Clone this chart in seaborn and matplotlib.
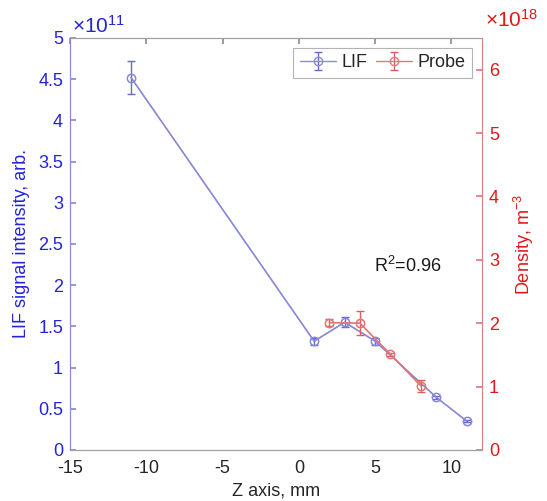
import numpy as np
import pandas as pd
import matplotlib
matplotlib.use("Agg")
import matplotlib.pyplot as plt
from matplotlib.ticker import FuncFormatter
import seaborn as sns

sns.set_theme(style="white")
plt.rcParams['font.family'] = ['Liberation Sans', 'DejaVu Sans']
plt.rcParams['axes.unicode_minus'] = False
plt.rcParams['mathtext.fontset'] = 'custom'
plt.rcParams['mathtext.rm'] = 'Liberation Sans'
plt.rcParams['mathtext.it'] = 'Liberation Sans'

# LIF data (left axis)
lif_z = [-11, 1, 3, 5, 9, 11]
lif_val = [4.52e11, 1.32e11, 1.55e11, 1.32e11, 0.64e11, 0.35e11]
lif_err = [0.20e11, 0.04e11, 0.06e11, 0.04e11, 0.02e11, 0.015e11]

# Probe data (right axis)
probe_z = [2, 4, 6, 8]
probe_val = [2.01e18, 2.00e18, 1.51e18, 1.01e18]
probe_err = [0.05e18, 0.19e18, 0.02e18, 0.10e18]

x_ticks = [-15, -10, -5, 0, 5, 10]
left_ticks = [0, 0.5, 1, 1.5, 2, 2.5, 3, 3.5, 4, 4.5, 5]
right_ticks = [0, 1, 2, 3, 4, 5, 6]

blue_line = "#8a8ad8"
blue_txt = "#2424d8"
red_line = "#e07a7a"
red_txt = "#e01818"
fs = 13

fig = plt.figure(figsize=(5.47, 5.01), dpi=100)
ax = fig.add_axes([70 / 547, 51 / 501, 412 / 547, 412 / 501])
ax2 = ax.twinx()

df_lif = pd.DataFrame({"z": lif_z, "v": lif_val})
df_pr = pd.DataFrame({"z": probe_z, "v": probe_val})

sns.lineplot(data=df_lif, x="z", y="v", ax=ax, color=blue_line, lw=1,
             marker="o", markersize=6, markerfacecolor="none",
             markeredgecolor=blue_line, legend=False)
e1 = ax.errorbar(lif_z, lif_val, yerr=lif_err, fmt="o-", color=blue_line,
                 ecolor="#6a6ac8", mfc="none", ms=6, lw=1, capsize=3, elinewidth=1)

sns.lineplot(data=df_pr, x="z", y="v", ax=ax2, color=red_line, lw=1,
             marker="o", markersize=6, markerfacecolor="none",
             markeredgecolor=red_line, legend=False)
e2 = ax2.errorbar(probe_z, probe_val, yerr=probe_err, fmt="o-", color=red_line,
                  ecolor="#d86060", mfc="none", ms=6, lw=1, capsize=3, elinewidth=1)

ax.set_xlim(-15, 12)
ax.set_ylim(0, 5e11)
ax2.set_ylim(0, 6.5e18)
ax.set_xticks(x_ticks)
ax.set_yticks(np.array(left_ticks) * 1e11)
ax2.set_yticks(np.array(right_ticks) * 1e18)

fmt = lambda v: ("%g" % v)
ax.yaxis.set_major_formatter(FuncFormatter(lambda v, p: fmt(round(v / 1e11, 3))))
ax2.yaxis.set_major_formatter(FuncFormatter(lambda v, p: fmt(round(v / 1e18, 3))))
ax.xaxis.set_major_formatter(FuncFormatter(lambda v, p: fmt(v)))

ax.tick_params(axis="x", direction="in", length=4, labelsize=fs, colors="#909090",
               labelcolor="#262626", top=True, pad=7)
ax.tick_params(axis="y", direction="in", length=4, labelsize=fs, colors=blue_line,
               labelcolor=blue_txt, pad=5)
ax2.tick_params(axis="y", direction="in", length=4, labelsize=fs, colors=red_line,
                labelcolor=red_txt, pad=5)

ax.text(0.005, 1.004, r"$\times$10$^{11}$", transform=ax.transAxes, fontsize=15,
        color=blue_txt, ha="left", va="bottom")
ax2.text(1.008, 1.018, r"$\times$10$^{18}$", transform=ax2.transAxes, fontsize=15,
         color=red_txt, ha="left", va="bottom")

for s in ("top", "bottom"):
    ax.spines[s].set_color("#a0a0a0")
    ax2.spines[s].set_color("#a0a0a0")
ax.spines["left"].set_color(blue_line)
ax2.spines["left"].set_color(blue_line)
ax2.spines["right"].set_color(red_line)
ax.spines["right"].set_visible(False)
for a in (ax, ax2):
    for s in a.spines.values():
        s.set_linewidth(0.8)

ax.set_xlabel("Z axis, mm", fontsize=fs, color="#262626", labelpad=4)
ax.set_ylabel("LIF signal intensity, arb.", fontsize=fs, color=blue_txt, labelpad=6)
ax2.set_ylabel("Density, m$^{-3}$", fontsize=fs, color=red_txt, labelpad=9)

ax2.text(4.9, 2.9e18, "R$^2$=0.96", fontsize=fs, color="#1a1a1a", va="center")

leg = ax2.legend([e1, e2], ["LIF", "Probe"], loc="upper right", ncol=2,
                 fontsize=fs, frameon=True, fancybox=False, edgecolor="#a0a0a0",
                 handlelength=2.0, columnspacing=0.5, handletextpad=0.3,
                 borderpad=0.35, borderaxespad=0.55)
leg.get_frame().set_linewidth(0.8)

fig.savefig("out.png", dpi=100)
